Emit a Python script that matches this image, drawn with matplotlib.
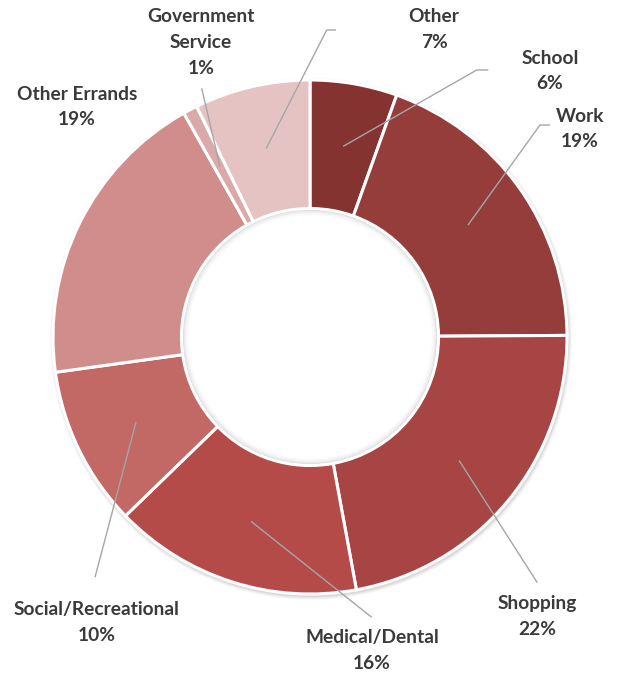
import matplotlib
matplotlib.use("Agg")
import matplotlib.pyplot as plt
from matplotlib.patches import Wedge, Circle
import numpy as np

# ---- data ----
categories = ["School", "Work", "Shopping", "Medical/Dental", "Social/Recreational",
              "Other Errands", "Government\nService", "Other"]
shares = [5.5, 19.5, 22.3, 15.7, 10.1, 19.1, 0.9, 7.3]          # wedge sizes
pct_labels = ["6%", "19%", "22%", "16%", "10%", "19%", "1%", "7%"]  # printed labels
colors = ["#843331", "#953d3b", "#a64543", "#b54b48", "#c26865",
          "#d08d8b", "#d9aaa9", "#e6c3c3"]

W, H = 617, 673
fig = plt.figure(figsize=(W / 100, H / 100), dpi=100)
ax = fig.add_axes([0, 0, 1, 1])

def P(x, y):
    """pixel (y down) -> data coords (y up)"""
    return x, H - y

cx, cy = P(310, 337)
R = 257
Rin = 128.5

# soft outer shadow
for i, a in enumerate([0.04, 0.05, 0.07, 0.09]):
    ax.add_patch(Circle((cx + 1, cy - 2), R + 4 - i, color="#606060", alpha=a, lw=0, zorder=0))
ax.add_patch(Circle((cx, cy), Rin + 2, color="white", lw=0, zorder=0.5))

wedges, _ = ax.pie(shares, colors=colors, startangle=90, counterclock=False,
                   radius=R, center=(cx, cy),
                   wedgeprops=dict(width=R - Rin, edgecolor="white", linewidth=2.2))
for w in wedges:
    w.set_zorder(1)

# inset shadow inside the hole
for i, a in enumerate([0.22, 0.14, 0.09, 0.05, 0.03]):
    ax.add_patch(Wedge((cx, cy), Rin - 1.2 - i * 1.1, 0, 360, width=1.1,
                       color="#707070", alpha=a, lw=0, zorder=2))
ax.add_patch(Circle((cx, cy), Rin - 0.2, fill=False, ec="white", lw=1.6, zorder=3))

# labels: (text x, first line y) in pixels, leader end points in pixels
label_pos = {
    "School": (550, 58),
    "Work": (580, 116),
    "Shopping": (537, 604),
    "Medical/Dental": (372, 638),
    "Social/Recreational": (97, 610),
    "Other Errands": (77, 94),
    "Government\nService": (201, 17),
    "Other": (434, 17),
}
leaders = {
    "School": [(476.7, 70), (488.3, 70)],
    "Work": [(540, 125), (550, 125)],
    "Shopping": [(537.3, 582.7)],
    "Medical/Dental": [(371.7, 617.3)],
    "Social/Recreational": [(95, 577.3)],
    "Government\nService": [(201.7, 88.3)],
    "Other": [(326.7, 30), (336, 30)],
}

txt_kw = dict(fontfamily=["Lato", "DejaVu Sans"], fontweight="bold", fontsize=13.8,
              color="#3a3a3a", ha="center", va="center", zorder=5)
line_h = 25.5

for w, cat, pct in zip(wedges, categories, pct_labels):
    lines = cat.split("\n") + [pct]
    x0, y0 = label_pos[cat]
    for k, s in enumerate(lines):
        ax.text(*P(x0, y0 + k * line_h), s, **txt_kw)
    if cat in leaders:
        mid = np.deg2rad((w.theta1 + w.theta2) / 2)
        r0 = 0.753 * R
        sx, sy = cx + r0 * np.cos(mid), cy + r0 * np.sin(mid)
        xs = [sx] + [P(*p)[0] for p in leaders[cat]]
        ys = [sy] + [P(*p)[1] for p in leaders[cat]]
        ax.plot(xs, ys, color="#a6a6a6", lw=1.0, zorder=4, solid_capstyle="butt")

ax.set_xlim(0, W)
ax.set_ylim(0, H)
ax.set_aspect("equal")
ax.axis("off")
fig.savefig("out.png", dpi=100, facecolor="white")
